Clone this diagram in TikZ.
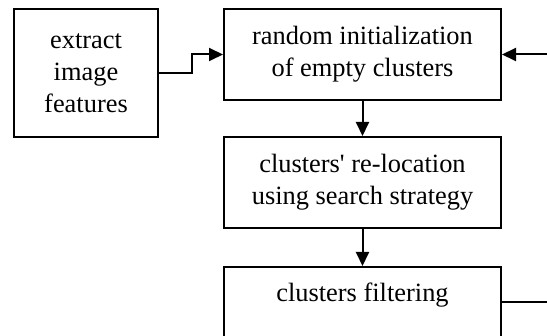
\documentclass[tikz,border=0pt]{standalone}
\usepackage{fontspec}
\setmainfont{Liberation Serif}[Ligatures=TeXOff]
\usepackage{tikz}
\usetikzlibrary{positioning,arrows.meta}
\tikzset{
  stage/.style={rectangle, draw=black, fill=white, line width=1pt, align=center,
    font=\fontsize{13.2}{16}\selectfont, inner sep=0pt},
  wide/.style={stage, minimum width=138.5pt, minimum height=45.5pt},
  flow/.style={draw=black, line width=1pt, -{Triangle[length=7pt,width=6.5pt]}},
  wire/.style={draw=black, line width=1pt}
}
\begin{document}
\begin{tikzpicture}[x=0.5pt, y=-0.5pt]
        \clip (0,0) rectangle (547,336);
        \node[stage, minimum width=72pt, minimum height=64pt] (feat) at (86,73) {extract\\image\\features};
        \node[wide] (init) at (362.5,54.5) {random initialization\\of empty clusters};
        \node[wide] (reloc) at (362.5,182.5) {clusters' re-location\\using search strategy};
        \node[wide, minimum height=35pt, text depth=10pt] (filt) at (362.5,302) {clusters filtering};
        \coordinate (back) at (570,54.5);
        \coordinate (out) at (570,302);
        \draw[flow] (feat.east) -- ++(33,0) |- (init.west);
        \draw[flow] (back) -- (init.east);
        \draw[flow] (init) -- (reloc);
        \draw[flow] (reloc) -- (filt);
        \draw[wire] (filt.east) -- (out);
      \end{tikzpicture}
\end{document}
